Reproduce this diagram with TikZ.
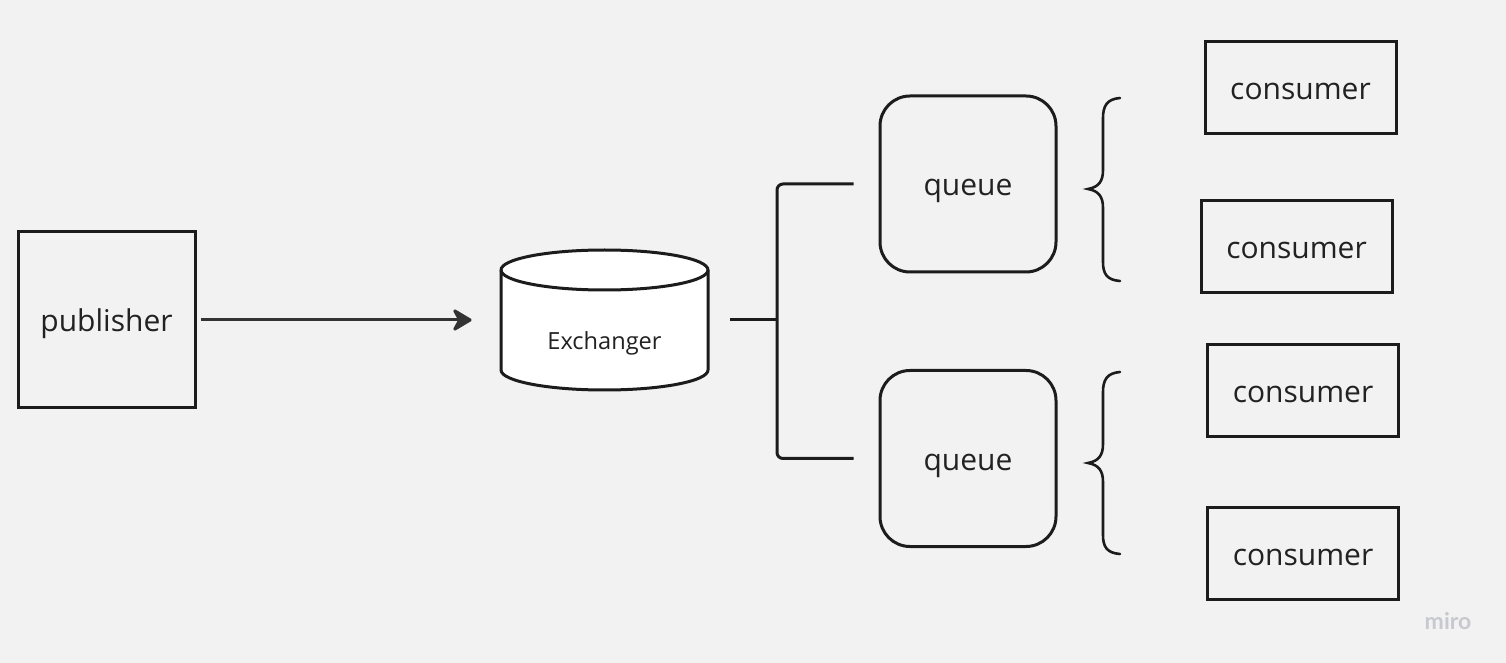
\documentclass[tikz,border=0pt]{standalone}
\usepackage{fontspec}
\setmainfont{Open Sans}
\newfontfamily\brandfont{Lato}
\usetikzlibrary{arrows.meta}
\definecolor{bg}{HTML}{F2F2F2}
\definecolor{ink}{HTML}{1C1C1C}
\definecolor{txt}{HTML}{222222}
\definecolor{arrowink}{HTML}{333333}
\definecolor{brand}{HTML}{C8C8D0}
\begin{document}
\begin{tikzpicture}[x=0.5pt,y=-0.5pt,
  box/.style={draw=ink,line width=1.5pt,rectangle,inner sep=0pt,text=txt,
    font=\fontsize{15}{18}\selectfont,text height=12pt,text depth=0pt},
  qbox/.style={box,rounded corners=15pt,minimum width=88pt,minimum height=88pt},
  cbox/.style={box,minimum width=95.5pt,minimum height=46pt},
  conn/.style={draw=ink,line width=1.5pt},
  brace/.style={draw=ink,line width=1.3pt,line cap=round},
  arr/.style={draw=arrowink,line width=1.5pt,-{Stealth[length=11pt,width=13pt,inset=3.5pt,round]}}]
% canvas
\fill[bg] (0,0) rectangle (1506,663);
\useasboundingbox (0,0) rectangle (1506,663);

% publisher
\node[box,minimum width=88.5pt,minimum height=88pt] (pub) at (106.5,320) {publisher};

% exchanger cylinder
\node[minimum width=103.5pt,minimum height=70pt,inner sep=0pt] (ex) at (604.5,320) {};
\filldraw[conn,fill=white,line join=round]
  (501,270) -- (501,370) arc[start angle=180,end angle=360,x radius=51.75pt,y radius=10pt]
  -- (708,270) arc[start angle=0,end angle=180,x radius=51.75pt,y radius=10pt] -- cycle;
\draw[conn] (501,270) arc[start angle=180,end angle=360,x radius=51.75pt,y radius=10pt];
\node[text=txt,font=\fontsize{11.8}{14}\selectfont] (exlabel) at (604.5,343) {Exchanger};

% publisher -> exchanger
\draw[arr,shorten <=2pt,shorten >=14.5pt] (pub.east) -- (ex.west);

% queues
\node[qbox] (q1) at (968,184) {queue};
\node[qbox] (q2) at (968,458.5) {queue};

% fan-out from the exchanger to the queues
\coordinate (fork) at (777,320);
\draw[conn,shorten <=11pt] (ex.east) -- (fork);
\draw[conn,rounded corners=3pt,shorten <=12.5pt,shorten >=12.5pt]
  (q1.west) -| (fork) |- (q2.west);

% consumers
\node[cbox] (c1) at (1300.5,88) {consumer};
\node[cbox] (c2) at (1296.5,247) {consumer};
\node[cbox] (c3) at (1303,391) {consumer};
\node[cbox] (c4) at (1303,553) {consumer};

% braces grouping the consumers of each queue
\draw[brace] (1120,98) .. controls (1107,99) and (1103,106) .. (1103,118)
  -- (1103,170) .. controls (1103,181) and (1099,187) .. (1088,189)
  .. controls (1099,191) and (1103,197) .. (1103,208)
  -- (1103,262) .. controls (1103,274) and (1107,280) .. (1120,281);
\draw[brace] (1120,372) .. controls (1107,373) and (1103,380) .. (1103,392)
  -- (1103,444) .. controls (1103,455) and (1099,461) .. (1088,463)
  .. controls (1099,465) and (1103,471) .. (1103,482)
  -- (1103,535) .. controls (1103,547) and (1107,553) .. (1120,554);

% watermark
\node[text=brand,font=\brandfont\bfseries\fontsize{11.5}{13}\selectfont] (mark) at (1448,621) {miro};
\end{tikzpicture}
\end{document}
